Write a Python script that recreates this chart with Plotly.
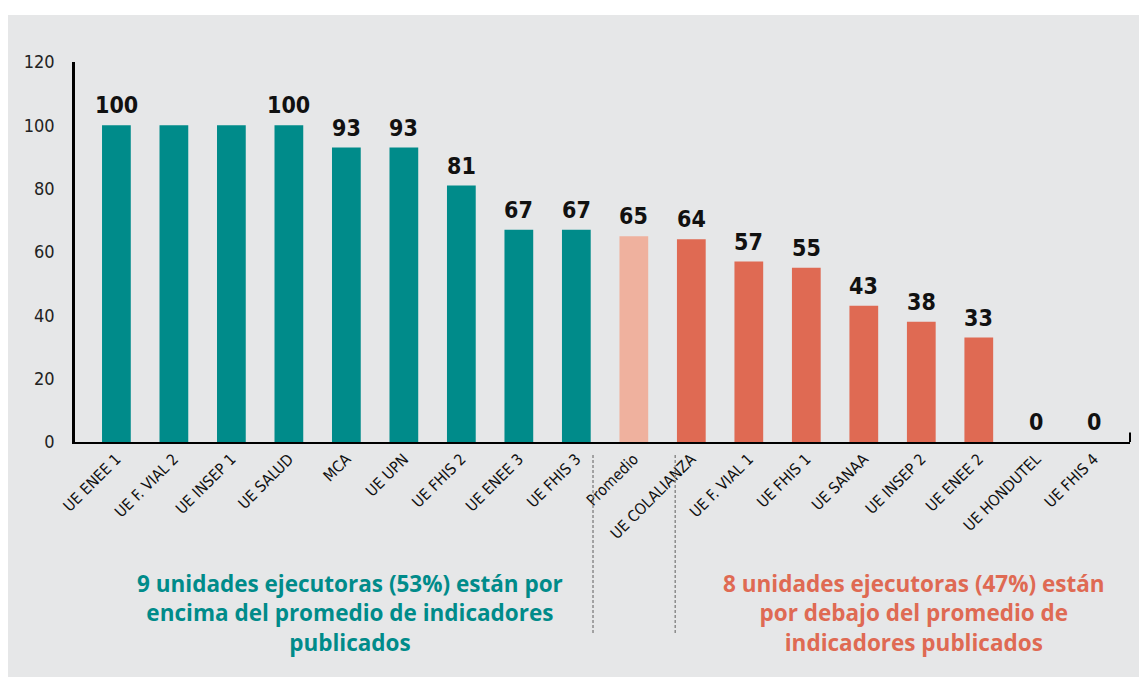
import plotly.graph_objects as go

categories = ["UE ENEE 1", "UE F. VIAL 2", "UE INSEP 1", "UE SALUD", "MCA", "UE UPN",
              "UE FHIS 2", "UE ENEE 3", "UE FHIS 3", "Promedio", "UE COLALIANZA",
              "UE F. VIAL 1", "UE FHIS 1", "UE SANAA", "UE INSEP 2", "UE ENEE 2",
              "UE HONDUTEL", "UE FHIS 4"]
values = [100, 100, 100, 100, 93, 93, 81, 67, 67, 65, 64, 57, 55, 43, 38, 33, 0, 0]
value_labels = ["100", "", "", "100", "93", "93", "81", "67", "67", "65", "64",
                "57", "55", "43", "38", "33", "0", "0"]
groups = ["above"] * 9 + ["avg"] + ["below"] * 8
y_ticks = [0, 20, 40, 60, 80, 100, 120]
note_above = "9 unidades ejecutoras (53%) están por<br>encima del promedio de indicadores<br>publicados"
note_below = "8 unidades ejecutoras (47%) están<br>por debajo del promedio de<br>indicadores publicados"

TEAL = "#008b8a"
SALMON = "#efb19e"
ORANGE = "#df6a53"
BG = "#e6e7e8"
color_map = {"above": TEAL, "avg": SALMON, "below": ORANGE}
NARROW = "DejaVu Sans Condensed, Liberation Sans Narrow, Roboto, sans-serif"

fig = go.Figure()
fig.add_trace(go.Bar(
    x=categories, y=values,
    marker=dict(color=[color_map[g] for g in groups], line=dict(width=0)),
    width=0.5,
    hoverinfo="x+y",
))

for c, v, t in zip(categories, values, value_labels):
    if t:
        fig.add_annotation(x=c, y=v, xref="x", yref="y", text=t, showarrow=False,
                           yanchor="bottom", yshift=5,
                           font=dict(family=NARROW, size=23, color="#111111", weight="bold"))

# group notes
fig.add_annotation(x=4.07, y=-0.326, xref="x", yref="paper", text=note_above,
                   showarrow=False, yanchor="top", xanchor="center", align="center",
                   font=dict(family="Open Sans, sans-serif", size=22.5, color=TEAL, weight="bold"))
fig.add_annotation(x=13.88, y=-0.326, xref="x", yref="paper", text=note_below,
                   showarrow=False, yanchor="top", xanchor="center", align="center",
                   font=dict(family="Open Sans, sans-serif", size=22.5, color=ORANGE, weight="bold"))

# white band at top over gray page
fig.add_shape(type="rect", xref="paper", yref="paper", x0=-0.2, x1=1.1, y0=1.124, y1=1.3,
              fillcolor="white", line=dict(width=0), layer="below")

# dashed separators
for xs in [8.29, 9.72]:
    fig.add_shape(type="line", xref="x", yref="paper", x0=xs, x1=xs, y0=-0.034, y1=-0.508,
                  line=dict(color="#8c8c8c", width=1.5, dash="3px,2px"))

# tick at right end of x axis
fig.add_shape(type="line", xref="x domain", yref="y", x0=1, x1=1, y0=0, y1=3,
              line=dict(color="black", width=2))

fig.update_layout(
    width=1139, height=669,
    margin=dict(l=67, r=17, t=54, b=235),
    paper_bgcolor=BG, plot_bgcolor=BG,
    showlegend=False,
)
fig.update_xaxes(
    type="category", range=[-0.72, 17.63],
    showline=True, linecolor="black", linewidth=2,
    showgrid=False, ticks="", tickangle=-45,
    tickfont=dict(family=NARROW, size=15.5, color="#111111"),
)
fig.update_yaxes(
    range=[0, 120], tickvals=y_ticks, ticktext=[str(v) for v in y_ticks],
    showline=True, linecolor="black", linewidth=2.5,
    showgrid=False, zeroline=False, ticks="",
    ticklabelstandoff=14,
    tickfont=dict(family=NARROW, size=18, color="#222222"),
)

fig.write_html("out.html")
